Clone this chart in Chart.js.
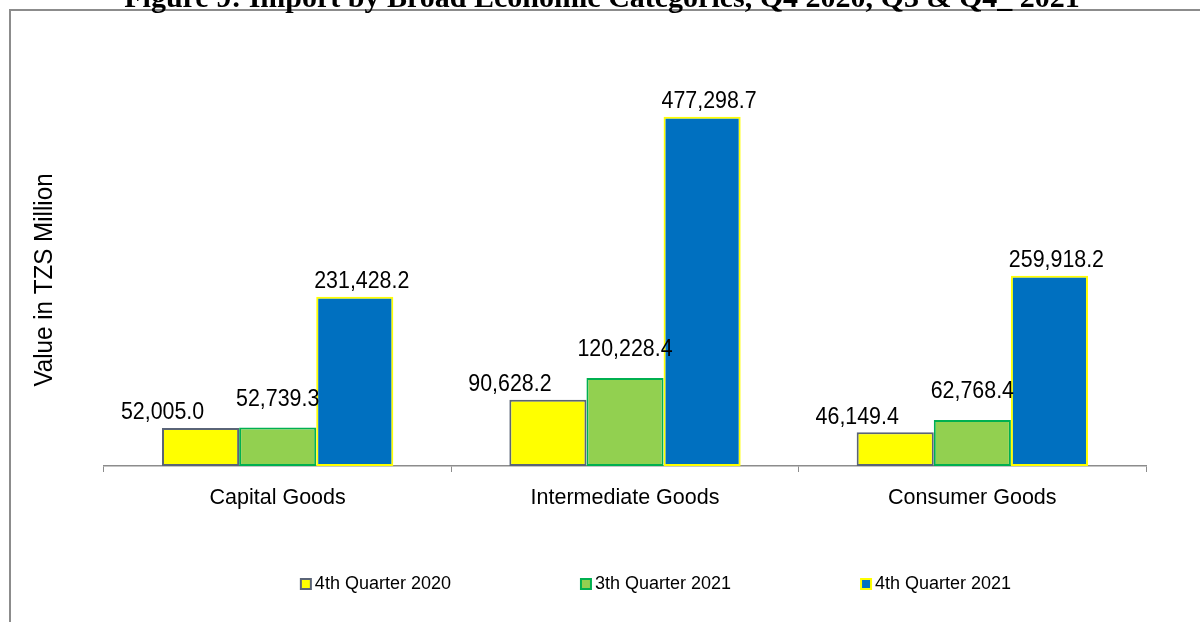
<!DOCTYPE html>
<html>
<head>
<meta charset="utf-8">
<script src="https://cdn.jsdelivr.net/npm/chart.js@4.4.1/dist/chart.umd.min.js"></script>
<style>
  html, body { margin: 0; padding: 0; background: #ffffff; overflow: hidden; }
  #wrap { position: absolute; left: 0; top: 0; width: 1200px; height: 622px; }
</style>
</head>
<body>
<div id="wrap"><canvas id="bec-chart"></canvas></div>
<script>
/************************************************************
    Import by Broad Economic Categories - grouped bars
*************************************************************/

var categories = ['Capital Goods', 'Intermediate Goods', 'Consumer Goods'];
var seriesNames = ['4th Quarter 2020', '3th Quarter 2021', '4th Quarter 2021'];
var q4_2020 = [52005.0, 90628.2, 46149.4];
var q3_2021 = [52739.3, 120228.4, 62768.4];
var q4_2021 = [231428.2, 477298.7, 259918.2];

var chartTitle = 'Figure 9: Import by Broad Economic Categories, Q4 2020, Q3 & Q4_ 2021';
var yTitle = 'Value in TZS Million';

var sans = '"Liberation Sans", Arial, sans-serif';
var squeeze = 0.93; // original text looks a bit condensed

//Display numbers with commas and one decimal
function numberWithCommas(x) {
    var parts = x.toFixed(1).split(".");
    parts[0] = parts[0].replace(/\B(?=(\d{3})+(?!\d))/g, ",");
    return parts.join(".");
}

// frame, cut-off title and rotated axis title
var decorPlugin = {
    id: 'decor',
    beforeDraw: function (chart) {
        var ctx = chart.ctx;
        ctx.save();
        ctx.strokeStyle = '#8c8c8c';
        ctx.lineWidth = 2;
        ctx.beginPath();
        ctx.moveTo(10, 622);
        ctx.lineTo(10, 10);
        ctx.lineTo(1200, 10);
        ctx.stroke();

        ctx.fillStyle = '#000000';
        ctx.font = 'bold 30px "Liberation Serif", "Times New Roman", serif';
        ctx.textAlign = 'center';
        ctx.textBaseline = 'alphabetic';
        ctx.fillText(chartTitle, 602, 7);

        ctx.translate(45, 280);
        ctx.rotate(-Math.PI / 2);
        ctx.scale(squeeze, 1);
        ctx.font = '26px ' + sans;
        ctx.textBaseline = 'middle';
        ctx.fillText(yTitle, 0, 0);
        ctx.restore();
    }
};

// value labels above the bars, nudged like in the original
var valueLabels = {
    id: 'valueLabels',
    afterDatasetsDraw: function (chart) {
        var ctx = chart.ctx;
        chart.data.datasets.forEach(function (ds, i) {
            chart.getDatasetMeta(i).data.forEach(function (bar, j) {
                ctx.save();
                ctx.translate(bar.x + ds.labelDx, bar.y - ds.labelDy);
                ctx.scale(squeeze, 1);
                ctx.font = '23px ' + sans;
                ctx.fillStyle = '#000000';
                ctx.textAlign = 'center';
                ctx.textBaseline = 'middle';
                ctx.fillText(numberWithCommas(ds.data[j]), 0, 0);
                ctx.restore();
            });
        });
    }
};

// legend row at the bottom
var bottomLegend = {
    id: 'bottomLegend',
    afterDraw: function (chart) {
        var ctx = chart.ctx;
        var gap = 130, box = 10, cy = 584;
        ctx.save();
        ctx.font = '18px ' + sans;
        var widths = chart.data.datasets.map(function (ds) {
            return box + 4 + ctx.measureText(ds.label).width;
        });
        var total = widths.reduce(function (a, b) { return a + b; }, 0) + gap * (widths.length - 1);
        var x = 656 - total / 2;
        chart.data.datasets.forEach(function (ds, i) {
            ctx.fillStyle = ds.backgroundColor;
            ctx.fillRect(x, cy - box / 2, box, box);
            ctx.strokeStyle = ds.borderColor;
            ctx.lineWidth = 2;
            ctx.strokeRect(x, cy - box / 2, box, box);
            ctx.fillStyle = '#000000';
            ctx.textAlign = 'left';
            ctx.textBaseline = 'middle';
            ctx.fillText(ds.label, x + box + 4, cy);
            x += widths[i] + gap;
        });
        ctx.restore();
    }
};

new Chart(document.getElementById("bec-chart"), {
    type: 'bar',
    data: {
        labels: categories,
        datasets: [
            {
                label: seriesNames[0],
                data: q4_2020,
                backgroundColor: '#ffff00',
                borderColor: '#5a6477',
                borderWidth: 2,
                borderSkipped: false,
                labelDx: -38,
                labelDy: 15
            },
            {
                label: seriesNames[1],
                data: q3_2021,
                backgroundColor: '#92d050',
                borderColor: '#00b050',
                borderWidth: 2,
                borderSkipped: false,
                labelDx: 0,
                labelDy: 28
            },
            {
                label: seriesNames[2],
                data: q4_2021,
                backgroundColor: '#0070c0',
                borderColor: '#ffff00',
                borderWidth: 2,
                borderSkipped: false,
                labelDx: 7,
                labelDy: 15
            }
        ]
    },
    options: {
        responsive: true,
        maintainAspectRatio: false,
        animation: false,
        categoryPercentage: 0.666,
        barPercentage: 1.0,
        layout: {
            padding: { left: 104, right: 54, top: 27, bottom: 0 }
        },
        plugins: {
            legend: { display: false },
            title: { display: false },
            tooltip: { enabled: false }
        },
        scales: {
            x: {
                grid: {
                    display: true,
                    offset: true,
                    drawOnChartArea: false,
                    drawTicks: true,
                    tickLength: 6,
                    color: '#8c8c8c'
                },
                border: { display: true, color: '#8c8c8c', width: 1.5 },
                ticks: {
                    color: '#000000',
                    padding: 13,
                    font: { family: sans, size: 21.5 }
                },
                afterFit: function (scale) { scale.height = 156; }
            },
            y: {
                display: false,
                min: 0,
                max: 600000
            }
        }
    },
    plugins: [decorPlugin, valueLabels, bottomLegend]
});
</script>
</body>
</html>
